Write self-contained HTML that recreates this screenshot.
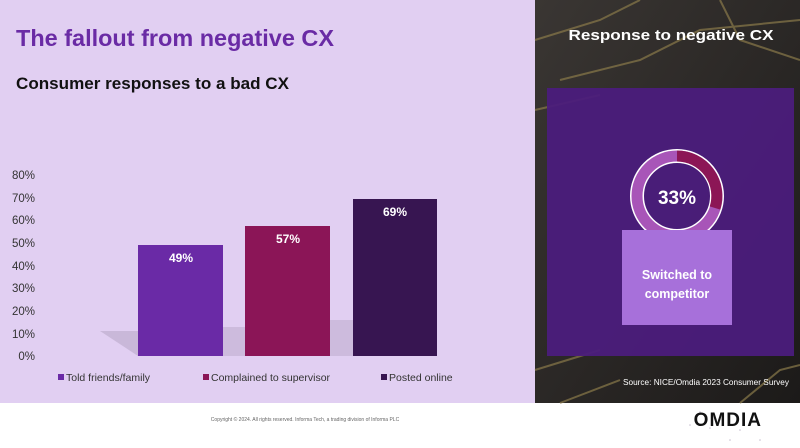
<!DOCTYPE html>
<html><head><meta charset="utf-8"><style>
html,body{margin:0;padding:0;width:800px;height:448px;overflow:hidden;background:#fff}
svg{display:block}
text{font-family:"Liberation Sans",sans-serif}
</style></head><body>
<svg width="800" height="448" viewBox="0 0 800 448" xmlns="http://www.w3.org/2000/svg">
<defs>
<linearGradient id="dk" x1="0" y1="0" x2="1" y2="1">
<stop offset="0" stop-color="#3a3633"/><stop offset="1" stop-color="#1c1a19"/>
</linearGradient>
</defs>
<rect x="0" y="0" width="535" height="403" fill="#e1cff2"/>
<rect x="535" y="0" width="265" height="403" fill="url(#dk)"/>
<g stroke="#8a7a4a" stroke-width="2" fill="none" opacity="0.7">
<path d="M535 40 L600 20 L640 0"/><path d="M560 80 L640 60 L700 30 L800 20"/>
<path d="M535 110 L600 95"/><path d="M720 0 L740 40 L800 60"/>
<path d="M535 370 L600 350"/><path d="M560 403 L620 380"/><path d="M740 403 L780 370 L800 365"/>
</g>
<text x="671" y="40" font-size="15" font-weight="bold" fill="#fff" text-anchor="middle" textLength="205" lengthAdjust="spacingAndGlyphs">Response to negative CX</text>
<rect x="547" y="88" width="247" height="268" fill="#4b1c7c" opacity="0.95"/>
<circle cx="677" cy="196" r="40" fill="none" stroke="#fff" stroke-width="14"/>
<circle cx="677" cy="196" r="40" fill="none" stroke="#a855b8" stroke-width="11"/>
<path d="M677 156 A40 40 0 0 1 715 208" fill="none" stroke="#8c1656" stroke-width="11"/>
<text x="677" y="204" font-size="19" font-weight="bold" fill="#fff" text-anchor="middle">33%</text>
<rect x="622" y="230" width="110" height="95" fill="#a770da"/>
<text x="677" y="279" font-size="12.5" font-weight="bold" fill="#fff" text-anchor="middle">Switched to</text>
<text x="677" y="298" font-size="12.5" font-weight="bold" fill="#fff" text-anchor="middle">competitor</text>
<text x="789" y="385" font-size="8" fill="#fff" text-anchor="end" textLength="166" lengthAdjust="spacingAndGlyphs">Source: NICE/Omdia 2023 Consumer Survey</text>

<text x="16" y="46" font-size="23" font-weight="bold" fill="#6a2ba5" textLength="318" lengthAdjust="spacingAndGlyphs">The fallout from negative CX</text>
<text x="16" y="89" font-size="17" font-weight="bold" fill="#111" textLength="273" lengthAdjust="spacingAndGlyphs">Consumer responses to a bad CX</text>

<g font-size="11.5" fill="#333" text-anchor="end">
<text x="35" y="179">80%</text><text x="35" y="202">70%</text><text x="35" y="224">60%</text>
<text x="35" y="247">50%</text><text x="35" y="270">40%</text><text x="35" y="292">30%</text>
<text x="35" y="315">20%</text><text x="35" y="338">10%</text><text x="35" y="360">0%</text>
</g>
<polygon points="100,331 138,331 138,356" fill="#b9a8c8" opacity="0.6"/>
<polygon points="223,327 245,327 245,356 223,356" fill="#b9a8c8" opacity="0.5"/>
<polygon points="330,320 353,320 353,356 330,356" fill="#b9a8c8" opacity="0.5"/>
<rect x="138" y="245" width="85" height="111" fill="#6a2aa6"/>
<rect x="245" y="226" width="85" height="130" fill="#8b1557"/>
<rect x="353" y="199" width="84" height="157" fill="#371551"/>
<g font-size="12" font-weight="bold" fill="#fff" text-anchor="middle">
<text x="181" y="262">49%</text><text x="288" y="243">57%</text><text x="395" y="216">69%</text>
</g>
<g font-size="10.5" fill="#333">
<rect x="58" y="374" width="6" height="6" fill="#6a2aa6"/><text x="66" y="381">Told friends/family</text>
<rect x="203" y="374" width="6" height="6" fill="#8b1557"/><text x="211" y="381">Complained to supervisor</text>
<rect x="381" y="374" width="6" height="6" fill="#371551"/><text x="389" y="381">Posted online</text>
</g>
<text x="305" y="421" font-size="5" fill="#666" text-anchor="middle">Copyright © 2024. All rights reserved. Informa Tech, a trading division of Informa PLC</text>
<g fill="#c8c0d0">
<circle cx="700" cy="412" r="0.8"/><circle cx="720" cy="418" r="0.8"/><circle cx="740" cy="430" r="0.8"/><circle cx="760" cy="440" r="0.8"/><circle cx="710" cy="428" r="0.8"/><circle cx="730" cy="440" r="0.8"/><circle cx="690" cy="425" r="0.8"/>
</g>
<text x="762" y="426" font-size="19" font-weight="bold" fill="#111" text-anchor="end" letter-spacing="1">OMDIA</text>
</svg>
</body></html>
